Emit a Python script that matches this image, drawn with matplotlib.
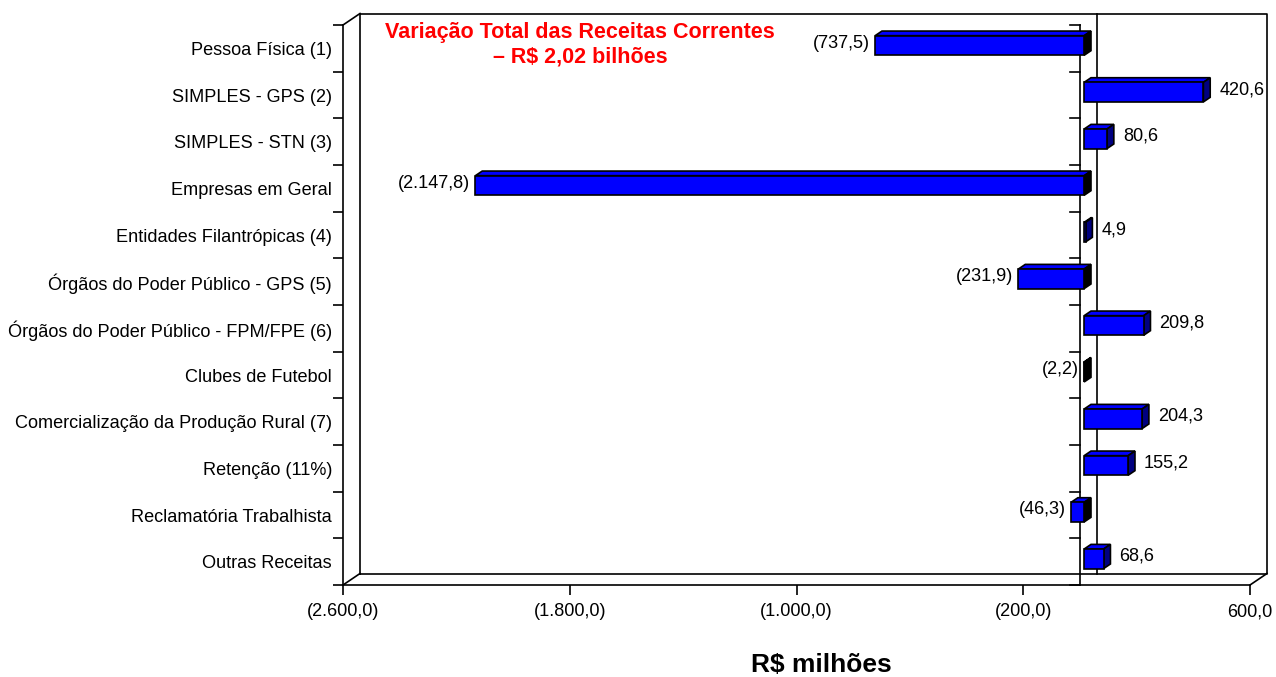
import matplotlib.pyplot as plt
from matplotlib.patches import Polygon

plt.rcParams['font.family'] = ['Liberation Sans', 'DejaVu Sans']

categories = ['Pessoa Física (1)', 'SIMPLES - GPS (2)', 'SIMPLES - STN (3)',
              'Empresas em Geral', 'Entidades Filantrópicas (4)',
              'Órgãos do Poder Público - GPS (5)',
              'Órgãos do Poder Público - FPM/FPE (6)', 'Clubes de Futebol',
              'Comercialização da Produção Rural (7)', 'Retenção (11%)',
              'Reclamatória Trabalhista', 'Outras Receitas']
values = [-737.5, 420.6, 80.6, -2147.8, 4.9, -231.9, 209.8, -2.2, 204.3, 155.2, -46.3, 68.6]
value_labels = ['(737,5)', '420,6', '80,6', '(2.147,8)', '4,9', '(231,9)', '209,8',
                '(2,2)', '204,3', '155,2', '(46,3)', '68,6']
xticks = [-2600, -1800, -1000, -200, 600]
xtick_labels = ['(2.600,0)', '(1.800,0)', '(1.000,0)', '(200,0)', '600,0']

W, H = 1276, 677
fig = plt.figure(figsize=(W / 100, H / 100), dpi=100)
# front plane of the 3d box, in pixels
L, R, T, B = 343, 1250, 25, 585
ax = fig.add_axes([L / W, 1 - B / H, (R - L) / W, (B - T) / H])
xmin, xmax = -2600, 600
n = len(categories)
ax.set_xlim(xmin, xmax)
ax.set_ylim(0, n)

ux = (xmax - xmin) / (R - L)   # data units per pixel
uy = n / (B - T)
dx, dy = 17 * ux, 11.5 * uy    # full depth of the box
lc = 'black'
lw = 1.2
fs = 13.1

# back wall, floor and corner lines
ax.plot([xmin + dx, xmin + dx, xmax + dx, xmax + dx, xmin + dx],
        [dy, n + dy, n + dy, dy, dy], color=lc, lw=lw, clip_on=False, zorder=1)
ax.plot([xmin, xmin + dx], [0, dy], color=lc, lw=lw, clip_on=False, zorder=1)
ax.plot([xmax, xmax + dx], [0, dy], color=lc, lw=lw, clip_on=False, zorder=1)
ax.plot([xmin, xmin + dx], [n, n + dy], color=lc, lw=lw, clip_on=False, zorder=1)
# zero line on back wall and category axis at zero
ax.plot([dx, dx], [dy, n + dy], color=lc, lw=lw, clip_on=False, zorder=1)
ax.plot([0, 0], [0, n], color=lc, lw=lw, clip_on=False, zorder=1)
for k in range(n + 1):
    ax.plot([-10 * ux, 0], [k, k], color=lc, lw=lw, clip_on=False, zorder=1)

# 3d bars
d0, d1 = 0.25, 0.65
hh = 0.21
ox0, oy0 = d0 * dx, d0 * dy
ox1, oy1 = d1 * dx, d1 * dy
for i, v in enumerate(values):
    yc = n - 0.5 - i
    x0, x1 = min(0, v), max(0, v)
    y0, y1 = yc - hh, yc + hh
    side = '#000080' if v > 0 else '#000000'
    front = [(x0 + ox0, y0 + oy0), (x1 + ox0, y0 + oy0), (x1 + ox0, y1 + oy0), (x0 + ox0, y1 + oy0)]
    top = [(x0 + ox0, y1 + oy0), (x1 + ox0, y1 + oy0), (x1 + ox1, y1 + oy1), (x0 + ox1, y1 + oy1)]
    right = [(x1 + ox0, y0 + oy0), (x1 + ox1, y0 + oy1), (x1 + ox1, y1 + oy1), (x1 + ox0, y1 + oy0)]
    ax.add_patch(Polygon(top, closed=True, fc='#0000FF', ec='black', lw=1.2, zorder=3))
    ax.add_patch(Polygon(right, closed=True, fc=side, ec='black', lw=1.2, zorder=3))
    ax.add_patch(Polygon(front, closed=True, fc='#0000FF', ec='black', lw=1.2, zorder=4))
    ly = yc + (oy0 + oy1) / 2
    if v > 0:
        ax.text(v + ox1 + 9 * ux, ly, value_labels[i], ha='left', va='center', fontsize=fs)
    else:
        ax.text(v + ox0 - 5 * ux, ly, value_labels[i], ha='right', va='center', fontsize=fs)

# axes styling
for s in ['top', 'right']:
    ax.spines[s].set_visible(False)
for s in ['left', 'bottom']:
    ax.spines[s].set_linewidth(lw)
ax.set_xticks(xticks)
ax.set_xticklabels(xtick_labels, fontsize=fs)
ax.tick_params(axis='x', direction='out', length=7.2, width=lw, pad=6)
ax.set_yticks(range(n + 1))
ax.set_yticklabels([])
ax.tick_params(axis='y', which='major', direction='out', length=7.2, width=lw)
ax.set_yticks([n - 0.5 - i for i in range(n)], minor=True)
ax.set_yticklabels(categories, minor=True, fontsize=fs)
ax.tick_params(axis='y', which='minor', length=0, pad=8)
ax.patch.set_visible(False)

fig.text(580 / W, 1 - 45 / H, 'Variação Total das Receitas Correntes\n– R$ 2,02 bilhões',
         color='#FF0000', fontsize=15.5, fontweight='bold', ha='center', va='center',
         linespacing=1.2)
fig.text(821 / W, 1 - 665 / H, 'R$ milhões', fontsize=19, fontweight='bold',
         ha='center', va='center')

fig.savefig('out.png', dpi=100)
